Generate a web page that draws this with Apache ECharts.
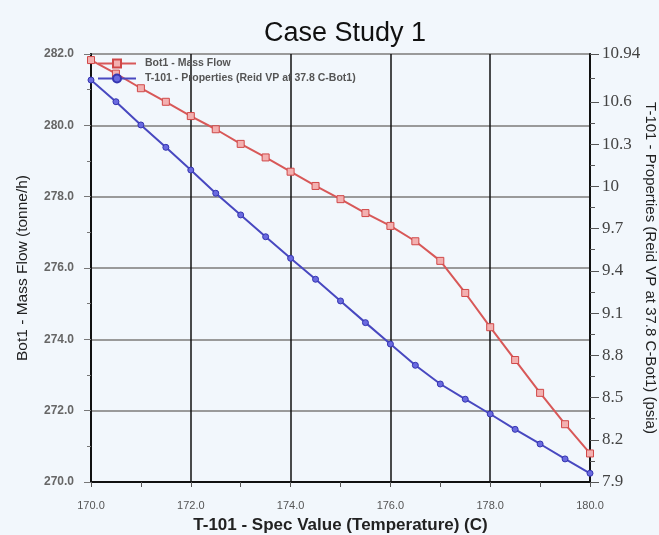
<!DOCTYPE html>
<html>
<head>
<meta charset="utf-8">
<script src="https://cdn.jsdelivr.net/npm/echarts@6/dist/echarts.min.js"></script>
<style>
html,body{margin:0;padding:0;background:#f2f7fc;}
#c{width:659px;height:535px;}
</style>
</head>
<body>
<div id="c"></div>
<script>
const xValues = [170,170.5,171,171.5,172,172.5,173,173.5,174,174.5,175,175.5,176,176.5,177,177.5,178,178.5,179,179.5,180];
const massFlow = [281.83,281.45,281.04,280.66,280.26,279.89,279.48,279.10,278.70,278.30,277.93,277.54,277.18,276.75,276.20,275.30,274.34,273.42,272.50,271.62,270.80];
const reidVP = [10.755,10.601,10.436,10.277,10.116,9.951,9.797,9.642,9.489,9.340,9.186,9.032,8.880,8.729,8.596,8.488,8.383,8.274,8.170,8.064,7.962];
const rightTickLabels = [7.9,8.2,8.5,8.8,9.1,9.4,9.7,10,10.3,10.6,10.94];
const rightMinorTicks = [8.05,8.35,8.65,8.95,9.25,9.55,9.85,10.15,10.45,10.77];
const seriesNames = ['Bot1 - Mass Flow','T-101 - Properties (Reid VP at 37.8 C-Bot1)'];

const chart = echarts.init(document.getElementById('c'));
const sans = 'Liberation Sans, Arial, sans-serif';
chart.setOption({
  backgroundColor: '#f2f7fc',
  animation: false,
  title: {
    text: 'Case Study 1', left: 340, top: 15, textAlign: 'center',
    textStyle: {fontFamily: sans, fontSize: 27, fontWeight: 'normal', color: '#111'}
  },
  legend: {
    orient: 'vertical', left: 92, top: 53, itemWidth: 38, itemHeight: 10, itemGap: 4,
    textStyle: {fontFamily: sans, fontSize: 10.5, fontWeight: 'bold', color: '#555', padding: [0,0,0,4]},
    data: seriesNames
  },
  grid: {left: 91, right: 69, top: 54, bottom: 53, outerBoundsMode: 'none', containLabel: false, show: true, borderColor: '#111', borderWidth: 1.5, backgroundColor: 'transparent'},
  xAxis: {
    type: 'value', min: 170, max: 180, interval: 2,
    name: 'T-101 - Spec Value (Temperature) (C)', nameLocation: 'middle', nameGap: 35,
    nameTextStyle: {fontFamily: sans, fontSize: 17, fontWeight: 'bold', color: '#222'},
    axisLine: {lineStyle: {color: '#111', width: 2}},
    axisTick: {length: 5, lineStyle: {color: '#555'}},
    minorTick: {show: true, splitNumber: 2, length: 5, lineStyle: {color: '#555'}},
    axisLabel: {fontFamily: sans, fontSize: 11, color: '#555', margin: 18, formatter: v => v.toFixed(1)},
    splitLine: {show: true, lineStyle: {color: '#111', width: 1.5}}
  },
  yAxis: [
    {
      type: 'value', min: 270, max: 282, interval: 2, position: 'left',
      name: 'Bot1 - Mass Flow (tonne/h)', nameLocation: 'middle', nameGap: 60,
      nameTextStyle: {fontFamily: sans, fontSize: 15.5, color: '#222'},
      axisLine: {show: true, lineStyle: {color: '#111', width: 2}},
      axisTick: {show: true, length: 7, lineStyle: {color: '#777'}},
      minorTick: {show: true, splitNumber: 2, length: 4, lineStyle: {color: '#777'}},
      axisLabel: {fontFamily: sans, fontSize: 12, fontWeight: 'bold', color: '#666', margin: 17, formatter: v => v.toFixed(1)},
      splitLine: {show: true, lineStyle: {color: '#9a9a9a', width: 2}}
    },
    {
      type: 'value', min: 7.9, max: 10.94, position: 'right',
      name: 'T-101 - Properties (Reid VP at 37.8 C-Bot1) (psia)', nameLocation: 'middle', nameGap: 53, nameRotate: -90, nameMoveOverlap: false,
      nameTextStyle: {fontFamily: sans, fontSize: 15, color: '#222'},
      axisLine: {show: true, lineStyle: {color: '#111', width: 2}},
      axisTick: {show: true, length: 9, lineStyle: {color: '#555'}, customValues: rightTickLabels},
      axisLabel: {fontFamily: 'Liberation Serif, DejaVu Serif, serif', fontSize: 17, color: '#444', margin: 12, customValues: rightTickLabels, formatter: v => String(v)},
      splitLine: {show: false}
    },
    {
      type: 'value', min: 7.9, max: 10.94, position: 'right',
      axisLine: {show: false},
      axisTick: {show: true, length: 5, lineStyle: {color: '#555'}, customValues: rightMinorTicks},
      axisLabel: {show: false},
      splitLine: {show: false}
    }
  ],
  series: [
    {
      name: seriesNames[0], type: 'line', yAxisIndex: 0,
      data: xValues.map((x, i) => [x, massFlow[i]]),
      symbol: 'rect', symbolSize: 7,
      lineStyle: {color: '#d85858', width: 2},
      itemStyle: {color: '#f3b0b0', borderColor: '#d04848', borderWidth: 1}
    },
    {
      name: seriesNames[1], type: 'line', yAxisIndex: 1,
      data: xValues.map((x, i) => [x, reidVP[i]]),
      symbol: 'circle', symbolSize: 6,
      lineStyle: {color: '#4848c0', width: 2},
      itemStyle: {color: '#6a6ae0', borderColor: '#3535b0', borderWidth: 1}
    }
  ]
});
</script>
</body>
</html>
